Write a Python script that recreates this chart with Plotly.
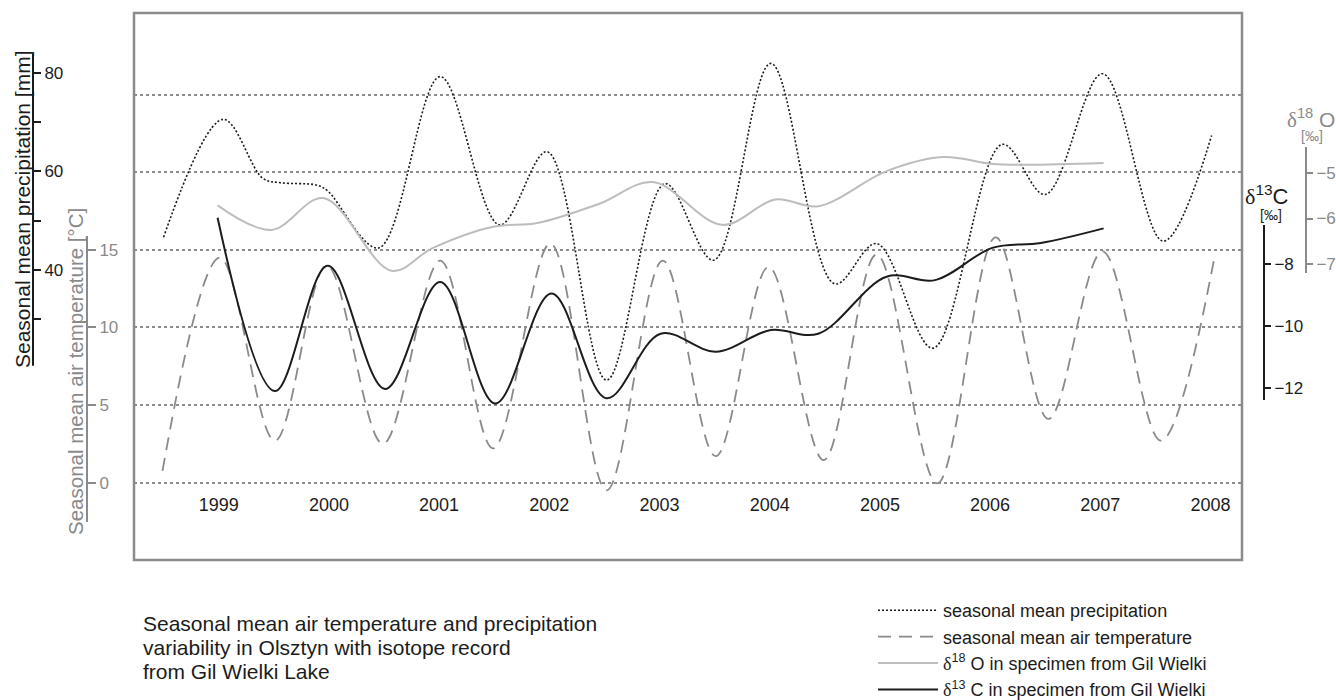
import plotly.graph_objects as go

# ---- seasonal series (decimal years) ----
precip_t = [1998.50, 1999.04, 1999.40, 1999.56, 1999.89, 1999.99, 2000.45, 2001.01,
            2001.55, 2001.98, 2002.52, 2003.05, 2003.49, 2004.01, 2004.59, 2004.97,
            2005.48, 2006.11, 2006.50, 2007.02, 2007.57, 2008.01]
precip_mm = [46.6, 70.6, 58.6, 57.7, 57.2, 56.0, 44.4, 79.3,
             49.1, 64.0, 17.5, 57.5, 41.9, 82.0, 37.1, 45.3,
             24.0, 65.5, 55.3, 79.9, 45.8, 67.3]

temp_t = [1998.49, 1999.01, 1999.51, 1999.98, 2000.49, 2001.01, 2001.49, 2002.01,
          2002.52, 2003.03, 2003.51, 2003.99, 2004.49, 2004.97, 2005.52, 2006.05,
          2006.53, 2007.02, 2007.55, 2008.03]
temp_c = [0.75, 14.5, 2.7, 14.0, 2.5, 14.3, 2.2, 15.4,
          -0.5, 14.3, 1.7, 13.9, 1.45, 14.7, -0.05, 15.8,
          4.1, 14.9, 2.7, 14.3]

d18o_t = [1998.99, 1999.48, 1999.95, 2000.57, 2000.94, 2001.49, 2001.89, 2002.46,
          2002.94, 2003.57, 2004.05, 2004.44, 2005.06, 2005.57, 2006.02, 2006.35, 2007.03]
d18o = [-5.71, -6.25, -5.55, -7.15, -6.65, -6.18, -6.10, -5.67,
        -5.20, -6.14, -5.58, -5.73, -4.96, -4.65, -4.80, -4.82, -4.78]

d13c_t = [1998.99, 1999.51, 1999.99, 2000.51, 2001.01, 2001.51, 2002.02, 2002.52,
          2003.01, 2003.51, 2004.01, 2004.44, 2005.06, 2005.50, 2006.02, 2006.46, 2007.03]
d13c = [-6.51, -12.10, -8.06, -12.03, -8.58, -12.5, -8.95, -12.33,
        -10.25, -10.83, -10.13, -10.25, -8.41, -8.52, -7.48, -7.32, -6.85]

years = list(range(1999, 2009))
precip_ticks = [40, 60, 80]
precip_minor = [30, 50, 70]
temp_ticks = [0, 5, 10, 15]
upper_grid = [20, 25]
d13c_ticks = [-12, -10, -8]
d18o_ticks = [-7, -6, -5]

# ---- page geometry (pixels) ----
W, H = 1336, 700
BOX_L, BOX_R, BOX_T, BOX_B = 134, 1242, 13, 560
SANS = "Liberation Sans, Arial, sans-serif"
SERIF = "Liberation Serif, Times New Roman, serif"
BORDER = "#8c8c8c"
GREY = "#8a8a8a"
LIGHT = "#bdbdbd"
INK = "#1c1c1c"


def px(x):
    return x / W


def py(y):
    return (H - y) / H


def span(v_ref, y_ref, per_unit):
    """Axis range so that v_ref sits at pixel row y_ref with per_unit px per unit."""
    return [v_ref - (BOX_B - y_ref) / per_unit, v_ref + (y_ref - BOX_T) / per_unit]


def minus(v):
    return ("\u2212" if v < 0 else "") + str(abs(v))


X_1999, X_PER_YEAR = 218.7, 110.2
x_range = [1999 + (BOX_L - X_1999) / X_PER_YEAR, 1999 + (BOX_R - X_1999) / X_PER_YEAR]
temp_range = span(0, 482.6, 15.52)
precip_range = span(60, 171.4, 4.91)
d13c_range = span(-8, 264, 31.0)
d18o_range = span(-5, 173, 45.5)

fig = go.Figure()
fig.add_trace(go.Scatter(
    x=precip_t, y=precip_mm, yaxis="y3", mode="lines",
    name="seasonal mean precipitation",
    line=dict(color=INK, width=1.6, dash="2px,2px", shape="spline", smoothing=1.0)))
fig.add_trace(go.Scatter(
    x=temp_t, y=temp_c, yaxis="y", mode="lines",
    name="seasonal mean air temperature",
    line=dict(color=GREY, width=1.8, dash="13px,8px", shape="spline", smoothing=1.0)))
fig.add_trace(go.Scatter(
    x=d18o_t, y=d18o, yaxis="y5", mode="lines",
    name=f"<span style='font-family:{SERIF}'>δ</span><sup>18</sup> O in specimen from Gil Wielki",
    line=dict(color=LIGHT, width=2, shape="spline", smoothing=1.0)))
fig.add_trace(go.Scatter(
    x=d13c_t, y=d13c, yaxis="y4", mode="lines",
    name=f"<span style='font-family:{SERIF}'>δ</span><sup>13</sup> C in specimen from Gil Wielki",
    line=dict(color=INK, width=2, shape="spline", smoothing=1.0)))

plain = dict(showgrid=False, zeroline=False, showline=False)
side_axis = dict(overlaying="y", anchor="free", side="right", ticks="outside",
                 tickwidth=1.5, **plain)
fig.update_layout(
    width=W, height=H,
    margin=dict(l=0, r=0, t=0, b=0, autoexpand=False),
    paper_bgcolor="white", plot_bgcolor="white",
    font=dict(family=SANS, color=INK),
    hovermode=False,
    xaxis=dict(domain=[px(BOX_L), px(BOX_R)], range=x_range, anchor="free",
               position=py(492), tickvals=years, ticktext=[str(y) for y in years],
               ticks="", tickfont=dict(size=18, color=INK), **plain),
    # temperature scale: ticks on the left spine, dotted guides across the frame
    yaxis=dict(domain=[py(BOX_B), py(BOX_T)], range=temp_range, anchor="free",
               position=px(87), side="right", tickvals=temp_ticks, ticks="outside",
               ticklen=8, tickwidth=1.5, tickcolor=GREY,
               tickfont=dict(size=17, color=GREY),
               showgrid=True, gridcolor=BORDER, gridwidth=1.5, griddash="dot",
               minor=dict(tickmode="array", tickvals=upper_grid, ticks="",
                          showgrid=True, gridcolor=BORDER, gridwidth=1.5, griddash="dot"),
               zeroline=False, showline=False),
    yaxis3=dict(position=px(33), range=precip_range, tickvals=precip_ticks, ticklen=7,
                tickcolor=INK, tickfont=dict(size=17, color=INK),
                minor=dict(tickmode="array", tickvals=precip_minor, ticks="outside",
                           ticklen=7, tickwidth=1.5, tickcolor=INK, showgrid=False),
                **side_axis),
    yaxis4=dict(position=px(1264), range=d13c_range, tickvals=d13c_ticks,
                ticktext=[minus(v) for v in d13c_ticks], ticklen=6, tickcolor=INK,
                tickfont=dict(size=17, color=INK), **side_axis),
    yaxis5=dict(position=px(1306), range=d18o_range, tickvals=d18o_ticks,
                ticktext=[minus(v) for v in d18o_ticks], ticklen=6, tickcolor=GREY,
                tickfont=dict(size=17, color=GREY), **side_axis),
    legend=dict(x=px(873), y=py(592), xanchor="left", yanchor="top",
                bgcolor="rgba(0,0,0,0)", font=dict(size=18, color=INK),
                itemwidth=60, tracegroupgap=0),
)

# frame around the plotting area
fig.add_shape(type="rect", xref="paper", yref="paper",
              x0=px(BOX_L), x1=px(BOX_R), y0=py(BOX_B), y1=py(BOX_T),
              line=dict(color=BORDER, width=2.5), layer="above")

# partial spines for the side scales
spines = [
    ("y", px(87), -2.54, 15.89, GREY),
    ("y3", px(33), 20.4, 83.9, INK),
    ("y4", px(1264), -12.39, -6.74, INK),
    ("y5", px(1306), -7.20, -4.43, GREY),
]
for yref, xpos, lo, hi, col in spines:
    fig.add_shape(type="line", xref="paper", yref=yref, x0=xpos, x1=xpos, y0=lo, y1=hi,
                  line=dict(color=col, width=2))

notes = [
    dict(x=px(22), y=py(209), text="Seasonal mean precipitation [mm]", textangle=-90,
         font=dict(size=21, color=INK)),
    dict(x=px(76), y=py(372), text="Seasonal mean air temperature [°C]", textangle=-90,
         font=dict(size=20.5, color=GREY)),
    dict(x=px(1267), y=py(195),
         text=f"<span style='font-family:{SERIF}'>δ</span><sup>13</sup>C",
         font=dict(size=22, color=INK)),
    dict(x=px(1271), y=py(215), text="[‰]", font=dict(size=14, color=INK)),
    dict(x=px(1311), y=py(118),
         text=f"<span style='font-family:{SERIF}'>δ</span><sup>18</sup> O",
         font=dict(size=21, color=GREY)),
    dict(x=px(1312), y=py(136), text="[‰]", font=dict(size=14, color=GREY)),
]
caption = ["Seasonal mean air temperature and precipitation",
           "variability in Olsztyn with isotope record",
           "from Gil Wielki Lake"]
for i, line in enumerate(caption):
    notes.append(dict(x=px(141), y=py(623 + 24 * i), text=line, xanchor="left",
                      font=dict(size=21, color=INK)))
for n in notes:
    n.setdefault("xanchor", "center")
    n.setdefault("yanchor", "middle")
    fig.add_annotation(xref="paper", yref="paper", showarrow=False, **n)

fig.write_html("out.html")
